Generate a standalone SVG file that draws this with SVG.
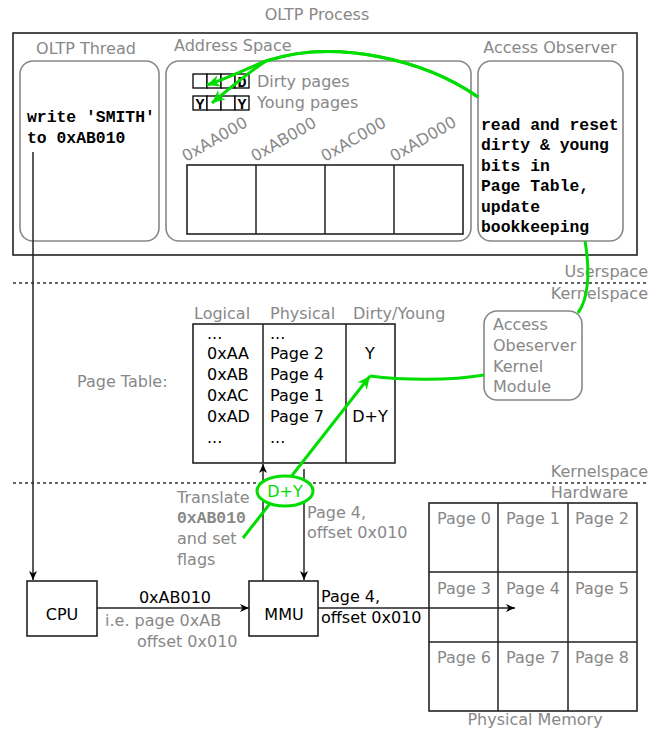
<svg xmlns="http://www.w3.org/2000/svg" width="662" height="729" viewBox="0 0 662 729">
<style>
  .g{font-family:"DejaVu Sans",sans-serif;font-size:16px;fill:#888}
  .k{font-family:"DejaVu Sans",sans-serif;font-size:16px;fill:#000}
  .m{font-family:"Liberation Mono",monospace;font-size:16.4px;font-weight:bold;fill:#000}
  .sm{font-family:"Liberation Mono",monospace;font-size:15px;font-weight:bold;fill:#000}
  .box{fill:#fff;stroke:#222;stroke-width:1.6}
  .rbox{fill:#fff;stroke:#888;stroke-width:1.6}
  .ln{fill:none;stroke:#222;stroke-width:1.5}
  .dot{fill:none;stroke:#333;stroke-width:1.5;stroke-dasharray:3,3}
  .gr{fill:none;stroke:#00dd00;stroke-width:3}
</style>
<defs>
  <marker id="ab" viewBox="-10 -5 11 10" refX="0" refY="0" markerWidth="11" markerHeight="10" orient="auto" markerUnits="userSpaceOnUse">
    <path d="M0,0 L-9,-4 L-6.5,0 L-9,4 Z" fill="#000"/>
  </marker>
  <marker id="ag" viewBox="-14 -7 15 14" refX="0" refY="0" markerWidth="15" markerHeight="14" orient="auto" markerUnits="userSpaceOnUse">
    <path d="M0,0 L-13,-6 L-9,0 L-13,6 Z" fill="#00dd00"/>
  </marker>
</defs>
<rect width="662" height="729" fill="#fff"/>

<g id="oltp-process">
  <text class="g" x="317" y="20" text-anchor="middle">OLTP Process</text>
  <rect class="box" x="13" y="33" width="624" height="222"/>
</g>

<g id="oltp-thread">
  <text class="g" x="86" y="54" text-anchor="middle">OLTP Thread</text>
  <rect class="rbox" x="20" y="61" width="139" height="180" rx="13"/>
  <text class="m" x="27" y="122">write 'SMITH'</text>
  <text class="m" x="27" y="143">to 0xAB010</text>
</g>

<g id="address-space">
  <text class="g" x="174" y="51">Address Space</text>
  <rect class="rbox" x="166" y="61" width="305" height="180" rx="13"/>
  <g fill="#fff" stroke="#000" stroke-width="1.3">
    <rect x="193" y="74" width="14" height="14"/>
    <rect x="207" y="74" width="14" height="14"/>
    <rect x="221" y="74" width="14" height="14"/>
    <rect x="235" y="74" width="14" height="14"/>
    <rect x="193" y="96" width="14" height="14"/>
    <rect x="207" y="96" width="14" height="14"/>
    <rect x="221" y="96" width="14" height="14"/>
    <rect x="235" y="96" width="14" height="14"/>
  </g>
  <text class="sm" x="242" y="86.5" text-anchor="middle">D</text>
  <text class="sm" x="200" y="108.5" text-anchor="middle">Y</text>
  <text class="sm" x="242" y="108.5" text-anchor="middle">Y</text>
  <text class="g" x="257" y="87">Dirty pages</text>
  <text class="g" x="257" y="108">Young pages</text>
  <text class="g" transform="translate(186,162) rotate(-30)">0xAA000</text>
  <text class="g" transform="translate(255,162) rotate(-30)">0xAB000</text>
  <text class="g" transform="translate(325,162) rotate(-30)">0xAC000</text>
  <text class="g" transform="translate(394,162) rotate(-30)">0xAD000</text>
  <rect class="box" x="187" y="165" width="276" height="69"/>
  <path class="ln" d="M256,165 V234 M325,165 V234 M394,165 V234"/>
</g>

<g id="access-observer">
  <text class="g" x="550" y="53" text-anchor="middle">Access Observer</text>
  <rect class="rbox" x="478" y="61" width="145" height="180" rx="13"/>
  <text class="m" x="481" y="130">read and reset</text>
  <text class="m" x="481" y="150">dirty &amp; young</text>
  <text class="m" x="481" y="171">bits in</text>
  <text class="m" x="481" y="191">Page Table,</text>
  <text class="m" x="481" y="212">update</text>
  <text class="m" x="481" y="232">bookkeeping</text>
</g>

<g id="layers">
  <path class="dot" d="M13,283 H648"/>
  <text class="g" x="648" y="277" text-anchor="end">Userspace</text>
  <text class="g" x="648" y="299" text-anchor="end">Kernelspace</text>
  <path class="dot" d="M13,483 H648"/>
  <text class="g" x="648" y="477" text-anchor="end">Kernelspace</text>
  <text class="g" x="628" y="498" text-anchor="end">Hardware</text>
</g>

<g id="page-table">
  <text class="g" x="77" y="387">Page Table:</text>
  <text class="g" x="194" y="319">Logical</text>
  <text class="g" x="270" y="319">Physical</text>
  <text class="g" x="353" y="319">Dirty/Young</text>
  <rect class="box" x="193" y="324" width="202" height="139"/>
  <path class="ln" d="M263,324 V463 M346,324 V463"/>
  <text class="k" x="207" y="339">...</text>
  <text class="k" x="207" y="359">0xAA</text>
  <text class="k" x="207" y="380">0xAB</text>
  <text class="k" x="207" y="401">0xAC</text>
  <text class="k" x="207" y="422">0xAD</text>
  <text class="k" x="207" y="443">...</text>
  <text class="k" x="270" y="339">...</text>
  <text class="k" x="270" y="359">Page 2</text>
  <text class="k" x="270" y="380">Page 4</text>
  <text class="k" x="270" y="401">Page 1</text>
  <text class="k" x="270" y="422">Page 7</text>
  <text class="k" x="270" y="443">...</text>
  <text class="k" x="370" y="359" text-anchor="middle">Y</text>
  <text class="k" x="370" y="422" text-anchor="middle">D+Y</text>
</g>

<g id="kernel-module">
  <rect class="rbox" x="484" y="311" width="98" height="89" rx="13"/>
  <text class="g" x="493" y="330">Access</text>
  <text class="g" x="493" y="351">Obeserver</text>
  <text class="g" x="493" y="372">Kernel</text>
  <text class="g" x="493" y="392">Module</text>
</g>

<g id="cpu">
  <rect class="box" x="27" y="581" width="70" height="55"/>
  <text class="k" x="62" y="620" text-anchor="middle">CPU</text>
</g>

<g id="mmu">
  <rect class="box" x="249" y="581" width="69" height="55"/>
  <text class="k" x="284" y="620" text-anchor="middle">MMU</text>
</g>

<g id="physical-memory">
  <rect class="box" x="429" y="503" width="208" height="208"/>
  <path class="ln" d="M498,503 V711 M568,503 V711 M429,572 H637 M429,642 H637"/>
  <text class="g" x="437" y="524">Page 0</text>
  <text class="g" x="506" y="524">Page 1</text>
  <text class="g" x="575" y="524">Page 2</text>
  <text class="g" x="437" y="594">Page 3</text>
  <text class="g" x="506" y="594">Page 4</text>
  <text class="g" x="575" y="594">Page 5</text>
  <text class="g" x="437" y="663">Page 6</text>
  <text class="g" x="506" y="663">Page 7</text>
  <text class="g" x="575" y="663">Page 8</text>
  <text class="g" x="535" y="725" text-anchor="middle">Physical Memory</text>
</g>

<g id="connectors">
  <path class="ln" d="M33,152 V580" marker-end="url(#ab)"/>
  <path class="ln" d="M97,608 H249" marker-end="url(#ab)"/>
  <text class="k" x="175" y="603" text-anchor="middle">0xAB010</text>
  <text class="g" x="105" y="626">i.e. page 0xAB</text>
  <text class="g" x="137" y="647">offset 0x010</text>
  <path class="ln" d="M318,608 H515" marker-end="url(#ab)"/>
  <text class="k" x="321" y="602">Page 4,</text>
  <text class="k" x="321" y="623">offset 0x010</text>
  <path class="ln" d="M263,581 V464" marker-end="url(#ab)"/>
  <path class="ln" d="M304,469 V580" marker-end="url(#ab)"/>
  <text class="g" x="177" y="503">Translate</text>
  <text class="m" x="177" y="523" style="fill:#888">0xAB010</text>
  <text class="g" x="177" y="544">and set</text>
  <text class="g" x="177" y="565">flags</text>
  <text class="g" x="307" y="518">Page 4,</text>
  <text class="g" x="307" y="538">offset 0x010</text>
  <path class="gr" d="M243,538 L370,376" marker-end="url(#ag)"/>
  <path class="gr" d="M484,375 C450,381 400,380 370,376"/>
  <path class="gr" d="M585,241 C590,270 589,298 578,313"/>
  <path class="gr" d="M478,97 C425,60 335,38 266,61 C248,68 228,78 207,85" marker-end="url(#ag)"/>
  <path class="gr" d="M478,97 C425,60 335,38 266,61 C252,70 230,88 212,103" marker-end="url(#ag)"/>
</g>

<g id="dy-badge">
  <ellipse cx="285" cy="491" rx="28" ry="15" fill="#fff" stroke="#00dd00" stroke-width="3"/>
  <text x="285" y="497" text-anchor="middle" style="font-family:'DejaVu Sans',sans-serif;font-size:16px;fill:#00dd00">D+Y</text>
</g>
</svg>
